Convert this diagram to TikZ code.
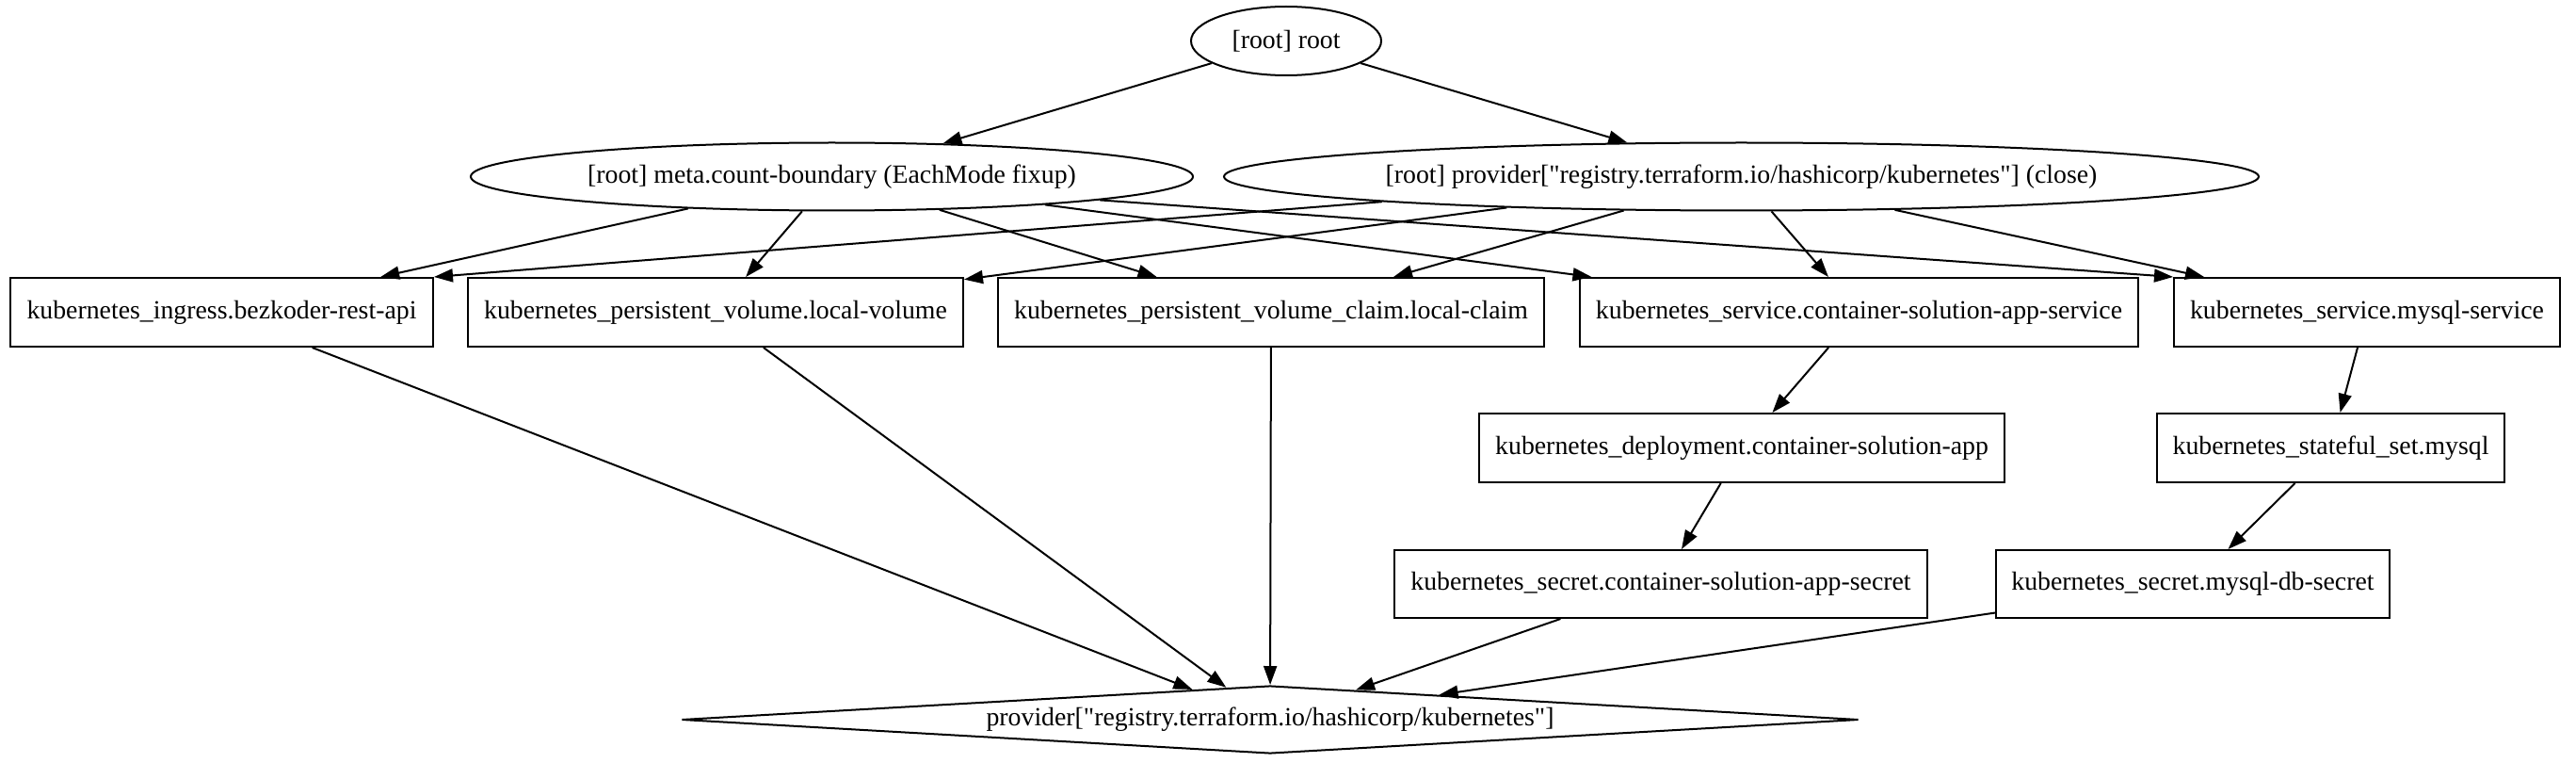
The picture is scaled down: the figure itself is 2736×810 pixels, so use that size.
\documentclass[tikz,border=0pt]{standalone}
\usepackage{fontspec}
\setmainfont{Liberation Serif}[Ligatures=TeXOff]
\usetikzlibrary{shapes.geometric,arrows.meta}
\begin{document}
\begin{tikzpicture}[x=1pt,y=-1pt,
  gnode/.style={font=\fontsize{27.8}{33}\selectfont, inner sep=0pt, line width=2pt, draw=black},
  ell/.style={gnode, ellipse, minimum height=72pt},
  box/.style={gnode, rectangle, minimum height=73pt},
  dia/.style={gnode, diamond, shape aspect=17.36, minimum width=1250pt, minimum height=72pt},
  conn/.style={line width=2pt, -{Triangle[length=20pt,width=14pt]}}
]
\useasboundingbox (0,0) rectangle (2736,810);
% ellipses
\node[ell, minimum width=202pt, minimum height=73pt] (root) at (1366,43.5) {[root] root};
\node[ell, minimum width=767pt] (meta) at (883.5,187.5) {[root] meta.count-boundary (EachMode fixup)};
\node[ell, minimum width=1099pt] (pclose) at (1849.5,187.5) {[root] provider["registry.terraform.io/hashicorp/kubernetes"] (close)};
% first row of boxes
\node[box, minimum width=449pt] (ingress) at (235.5,331.5) {kubernetes\_ingress.bezkoder-rest-api};
\node[box, minimum width=526pt] (pv) at (760,331.5) {kubernetes\_persistent\_volume.local-volume};
\node[box, minimum width=580pt] (pvc) at (1350,331.5) {kubernetes\_persistent\_volume\_claim.local-claim};
\node[box, minimum width=593pt] (svcapp) at (1974.5,331.5) {kubernetes\_service.container-solution-app-service};
\node[box, minimum width=410pt] (svcmysql) at (2514,331.5) {kubernetes\_service.mysql-service};
% second row
\node[box, minimum width=558pt] (deploy) at (1850,475.5) {kubernetes\_deployment.container-solution-app};
\node[box, minimum width=369pt] (stateful) at (2475.5,475.5) {kubernetes\_stateful\_set.mysql};
% third row
\node[box, minimum width=566pt, minimum height=72pt] (secretapp) at (1764,620) {kubernetes\_secret.container-solution-app-secret};
\node[box, minimum width=418pt, minimum height=72pt] (secretmysql) at (2329,620) {kubernetes\_secret.mysql-db-secret};
% provider diamond
\node[dia] (prov) at (1349,764) {provider["registry.terraform.io/hashicorp/kubernetes"]};
% connectors
\draw[conn] (root) -- (meta);
\draw[conn] (root) -- (pclose);
\draw[conn] (meta) -- (ingress);
\draw[conn] (meta) -- (pv);
\draw[conn] (meta) -- (pvc);
\draw[conn] (meta) -- (svcapp);
\draw[conn] (meta.-5.35) -- (svcmysql.north west);
\draw[conn] (pclose.-176.2) -- (ingress.north east);
\draw[conn] (pclose) -- (pv);
\draw[conn] (pclose) -- (pvc);
\draw[conn] (pclose) -- (svcapp);
\draw[conn] (pclose) -- (svcmysql);
\draw[conn] (svcapp) -- (deploy);
\draw[conn] (svcmysql) -- (stateful);
\draw[conn] (deploy) -- (secretapp);
\draw[conn] (stateful) -- (secretmysql);
\draw[conn] (ingress) -- (prov);
\draw[conn] (pv) -- (prov);
\draw[conn] (pvc) -- (prov);
\draw[conn] (secretapp) -- (prov);
\draw[conn] (secretmysql) -- (prov);
\end{tikzpicture}
\end{document}
